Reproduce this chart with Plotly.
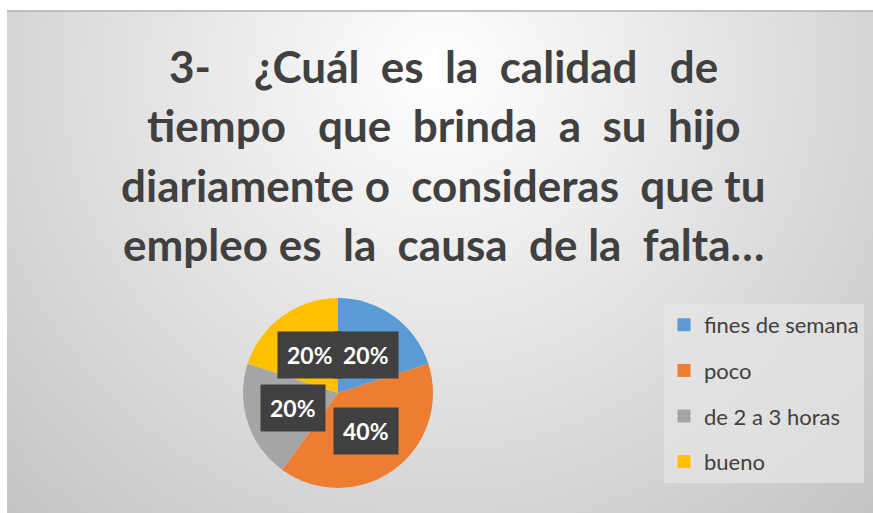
import base64
import math
import plotly.graph_objects as go

# ---- data ----
title_lines = [
    "3-\u00a0\u00a0\u00a0 ¿Cuál\u00a0 es\u00a0 la\u00a0 calidad\u00a0\u00a0 de",
    "tiempo\u00a0\u00a0 que\u00a0 brinda\u00a0 a\u00a0 su\u00a0 hijo",
    "diariamente o\u00a0 consideras\u00a0 que tu",
    "empleo es\u00a0 la\u00a0 causa\u00a0 de la\u00a0 falta…",
]
categories = ["fines de semana", "poco", "de 2 a 3 horas", "bueno"]
values = [20, 40, 20, 20]
colors = ["#5B9BD5", "#ED7D31", "#A5A5A5", "#FFC000"]

W, H = 873, 513


def px(x):
    return x / W


def py(y):
    return 1 - y / H


fig = go.Figure()

# pie geometry (screen pixels)
cx, cy, r = 338, 393, 95
fig.add_trace(go.Pie(
    labels=categories, values=values, sort=False, direction="clockwise",
    rotation=0, marker=dict(colors=colors, line=dict(width=0)),
    textinfo="none", hoverinfo="label+percent", showlegend=False,
    domain=dict(x=[px(cx - r), px(cx + r)], y=[py(cy + r), py(cy - r)]),
))

# legend entries via dummy traces
for i, (c, col) in enumerate(zip(categories, colors)):
    fig.add_trace(go.Scatter(
        x=[None], y=[None], mode="markers", name=c, legendgroup=str(i),
        marker=dict(symbol="square", size=13, color=col),
    ))

# percentage labels computed from the data
total = sum(values)
annotations = []
cum = 0
for v in values:
    mid = (cum + v / 2) / total * 2 * math.pi
    cum += v
    lx = cx + 0.5 * r * math.sin(mid)
    ly = cy - 0.5 * r * math.cos(mid)
    annotations.append(dict(
        x=px(lx), y=py(ly), xref="paper", yref="paper",
        text=f"{round(v / total * 100)}%",
        showarrow=False, bgcolor="#404040", borderpad=9,
        font=dict(family="Lato", size=23, color="white", weight="bold"),
        xanchor="center", yanchor="middle",
    ))

# title lines
title_y = [66, 125, 185, 244]
for t, y in zip(title_lines, title_y):
    annotations.append(dict(
        x=px(443), y=py(y), xref="paper", yref="paper", text=t,
        showarrow=False, xanchor="center", yanchor="middle",
        font=dict(family="Lato", size=44, color="#404040", weight="bold"),
    ))

# background radial gradient
svg = """<svg xmlns='http://www.w3.org/2000/svg' width='866' height='502'>
<defs><radialGradient id='g' gradientUnits='userSpaceOnUse' cx='433' cy='60' r='640'>
<stop offset='0' stop-color='#ffffff'/><stop offset='1' stop-color='#c2c2c2'/>
</radialGradient></defs><rect width='866' height='502' fill='url(#g)'/></svg>"""
src = "data:image/svg+xml;base64," + base64.b64encode(svg.encode()).decode()

fig.update_layout(
    width=W, height=H, margin=dict(l=0, r=0, t=0, b=0),
    paper_bgcolor="white", plot_bgcolor="rgba(0,0,0,0)",
    xaxis=dict(visible=False, domain=[0.9, 0.91]),
    yaxis=dict(visible=False, domain=[0.9, 0.91]),
    images=[dict(source=src, xref="paper", yref="paper", x=px(7), y=py(11),
                 sizex=1 - px(7), sizey=py(11), sizing="stretch",
                 xanchor="left", yanchor="top", layer="below")],
    shapes=[dict(type="line", xref="paper", yref="paper", x0=px(7), x1=1,
                 y0=py(11), y1=py(11), line=dict(color="#b0b0b0", width=1.5))],
    annotations=annotations,
    legend=dict(x=px(664), y=py(304), xanchor="left", yanchor="top",
                bgcolor="rgba(228,228,228,0.75)", borderwidth=0,
                font=dict(family="Lato", size=22, color="#404040"),
                tracegroupgap=14, itemwidth=30, entrywidth=203),
    showlegend=True,
)

fig.write_html(
    "out.html",
    config={"displayModeBar": False},
    post_script="document.body.style.margin='0';document.body.style.overflow='hidden';",
)
